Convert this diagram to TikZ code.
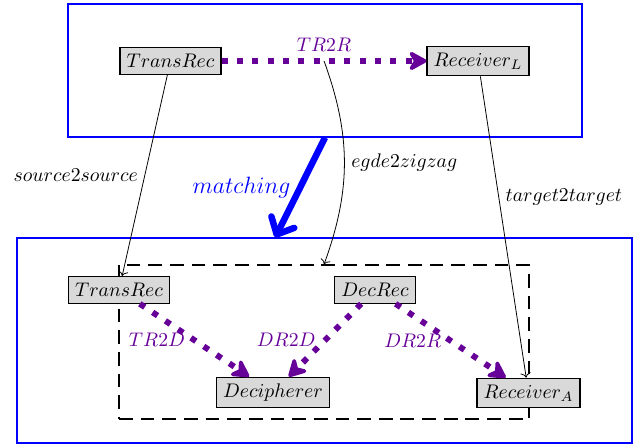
\documentclass[tikz,border=0pt]{standalone}
\usetikzlibrary{arrows.meta}
\definecolor{trpurple}{RGB}{102,0,153}
\begin{document}
\begin{tikzpicture}[
    elem/.style={draw,fill=gray!30,semithick},
    area/.style={draw=blue,semithick},
    rel/.style={-{Stealth[length=11pt,width=12pt,inset=3.5pt,round]},trpurple,line width=3pt,dash pattern=on 3pt off 4.8pt},
    rellabel/.style={text=trpurple},
    map/.style={->,thin}
]
    \useasboundingbox (0,0) rectangle (11.5,7.982);
    \node[area,minimum width=9.179cm,minimum height=2.375cm] (pattern) at (5.804,6.723) {};
    \node[area,minimum width=10.982cm,minimum height=3.661cm] (host) at (5.795,1.902) {};
    \node[draw,semithick,dash pattern=on 7pt off 4pt,minimum width=7.321cm,minimum height=2.75cm,inner sep=0] (zigzag) at (5.786,1.875) {};
    \node[elem] (transL) at (3.045,6.893) {$TransRec$};
    \node[elem] (recvL) at (8.536,6.893) {$Receiver_L$};
    \node[elem] (transA) at (2.125,2.804) {$TransRec$};
    \node[elem] (decA) at (6.696,2.804) {$DecRec$};
    \node[elem] (deciA) at (4.875,0.973) {$Decipherer$};
    \node[elem] (recvA) at (9.438,0.964) {$Receiver_A$};
    \draw[rel] (transL) -- (recvL) node[midway,above,rellabel] {$TR2R$} coordinate[midway] (tr2r);
    \draw[rel] (transA) -- (deciA) node[midway,left,rellabel] {$TR2D$};
    \draw[rel] (decA) -- (deciA) node[midway,left,rellabel] {$DR2D$};
    \draw[rel] (decA) -- (recvA) node[midway,left,rellabel] {$DR2R$};
    \draw[map] (transL) -- (transA) node[midway,left] {$source2source$};
    \draw[map] (tr2r) to[bend left=20] node[midway,right] {$egde2zigzag$} (zigzag.north);
    \draw[map] (recvL) -- (recvA) node[pos=0.4,right] {$target2target$};
    \draw[-{Straight Barb[length=7pt,width=13pt,round]},blue,line width=3.3pt] (pattern.south) -- ([xshift=-0.88cm]host.north) node[midway,left,text=blue,font=\large] {$matching$};
\end{tikzpicture}
\end{document}
